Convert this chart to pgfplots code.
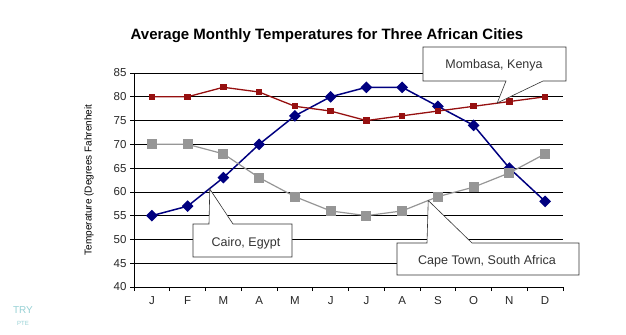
\documentclass[border=0pt]{standalone}
\usepackage{pgfplots}
\pgfplotsset{compat=1.18}
\usepackage{fontspec}
\setmainfont{Liberation Sans}
\definecolor{cairo}{RGB}{0,0,128}
\definecolor{mombasa}{RGB}{150,16,16}
\definecolor{cape}{RGB}{150,150,150}
\definecolor{wm}{RGB}{150,208,212}
\begin{document}
\begin{tikzpicture}[x=1bp,y=1bp]
\path[use as bounding box] (0,0) rectangle (626,334);
\begin{axis}[
  at={(134bp,47bp)}, anchor=south west,
  scale only axis, width=429bp, height=214bp,
  xmin=0.5, xmax=12.5, ymin=40, ymax=85,
  axis x line=bottom, axis y line=left,
  axis line style={-, black, line width=0.7bp},
  xtick={0.5,1.5,...,12.5}, xticklabels={},
  extra x ticks={1,...,12},
  extra x tick labels={J,F,M,A,M,J,J,A,S,O,N,D},
  extra x tick style={major tick length=0pt, grid=none},
  ytick={40,45,...,85},
  ymajorgrids, grid style={black, line width=0.6bp},
  tick align=outside, major tick length=4bp,
  tick style={black, line width=0.6bp},
  tick label style={font=\fontsize{11.5bp}{13bp}\selectfont, color=black!85},
  x tick label style={yshift=-6bp},
  /pgf/number format/assume math mode=true,
  clip=false,
]
\addplot[cairo, line width=1.5bp, mark=square*, mark size=3.4bp,
  mark options={rotate=45, solid}] coordinates {
  (1,55) (2,57) (3,63) (4,70) (5,76) (6,80) (7,82) (8,82) (9,78) (10,74) (11,65) (12,58)};
\addplot[mombasa, line width=1.3bp, mark=square*, mark size=2.5bp] coordinates {
  (1,80) (2,80) (3,82) (4,81) (5,78) (6,77) (7,75) (8,76) (9,77) (10,78) (11,79) (12,80)};
\addplot[cape, line width=1.2bp, mark=square*, mark size=4.3bp] coordinates {
  (1,70) (2,70) (3,68) (4,63) (5,59) (6,56) (7,55) (8,56) (9,59) (10,61) (11,64) (12,68)};
\coordinate (tipM) at (axis cs:10.66,78.7);
\coordinate (tipC) at (axis cs:2.62,60.6);
\coordinate (tipK) at (axis cs:8.73,58.2);
\end{axis}
% callouts
\draw[fill=white, draw=black!80, line width=0.6bp]
  (423,253) -- (506,253) -- (tipM) -- (543,253) -- (566,253) -- (566,287) -- (423,287) -- cycle;
\node[font=\fontsize{12.5bp}{14bp}\selectfont, text=black!80] at (494,269) {Mombasa, Kenya};
\draw[fill=white, draw=black!80, line width=0.6bp]
  (193,110) -- (209,110) -- (tipC) -- (233,110) -- (292,110) -- (292,77) -- (193,77) -- cycle;
\node[font=\fontsize{12.5bp}{14bp}\selectfont, text=black!80] at (246,91) {Cairo, Egypt};
\draw[fill=white, draw=black!80, line width=0.6bp]
  (397,91) -- (427,91) -- (tipK) -- (472,91) -- (579,91) -- (579,59) -- (397,59) -- cycle;
\node[font=\fontsize{12.5bp}{14bp}\selectfont, text=black!80] at (487,73) {Cape Town, South Africa};
% title and y label
\node[font=\bfseries\fontsize{15bp}{17bp}\selectfont] at (327,298)
  {Average Monthly Temperatures for Three African Cities};
\node[rotate=90, font=\fontsize{10bp}{12bp}\selectfont] at (89,154)
  {Temperature (Degrees Fahrenheit};
% watermark
\node[text=wm, font=\fontsize{10bp}{11bp}\selectfont] at (23,24) {TRY};
\node[text=wm, font=\fontsize{6bp}{7bp}\selectfont] at (23,11) {PTE};
\end{tikzpicture}
\end{document}
